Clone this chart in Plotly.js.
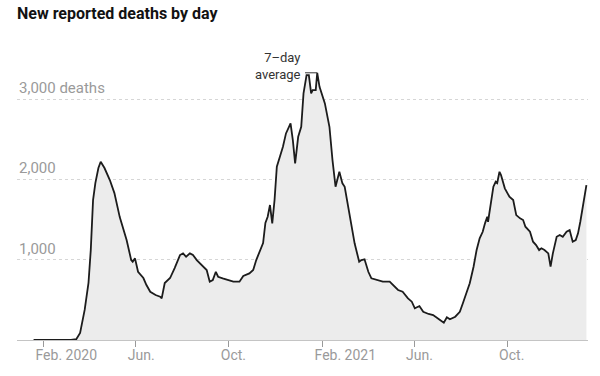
<!DOCTYPE html>
<html>
<head>
<meta charset="utf-8">
<script src="https://cdn.plot.ly/plotly-3.0.1.min.js"></script>
<style>
  html, body { margin: 0; padding: 0; background: #fff; }
  #chart { width: 600px; height: 376px; }
</style>
</head>
<body>
<div id="chart"></div>
<script>
// 7-day average of new reported deaths
const dates = [
  "2020-01-19","2020-02-15","2020-03-08","2020-03-15","2020-03-20","2020-03-26","2020-03-31",
  "2020-04-03","2020-04-06","2020-04-09","2020-04-13","2020-04-16","2020-04-21","2020-04-28",
  "2020-05-04","2020-05-11","2020-05-15","2020-05-20","2020-05-26","2020-05-28","2020-05-31",
  "2020-06-04","2020-06-11","2020-06-15","2020-06-20","2020-06-27","2020-07-03","2020-07-05",
  "2020-07-09","2020-07-16","2020-07-22","2020-07-29","2020-08-02","2020-08-06","2020-08-11",
  "2020-08-15","2020-08-20","2020-08-26","2020-09-02","2020-09-06","2020-09-10","2020-09-14",
  "2020-09-17","2020-09-23","2020-09-30","2020-10-07","2020-10-15","2020-10-20","2020-10-28",
  "2020-11-02","2020-11-06","2020-11-11","2020-11-15","2020-11-18","2020-11-21","2020-11-24",
  "2020-11-27","2020-11-30","2020-12-03","2020-12-07","2020-12-11","2020-12-15","2020-12-18",
  "2020-12-21","2020-12-24","2020-12-27","2020-12-31","2021-01-04","2021-01-07","2021-01-11",
  "2021-01-14","2021-01-17","2021-01-19","2021-01-23","2021-01-25","2021-01-28","2021-02-04",
  "2021-02-10","2021-02-14","2021-02-18","2021-02-23","2021-02-27","2021-03-02","2021-03-06",
  "2021-03-11","2021-03-15","2021-03-21","2021-03-24","2021-03-28","2021-04-02","2021-04-06",
  "2021-04-13","2021-04-21","2021-04-30","2021-05-04","2021-05-11","2021-05-17","2021-05-24",
  "2021-05-29","2021-06-02","2021-06-08","2021-06-13","2021-06-20","2021-06-26","2021-07-05",
  "2021-07-10","2021-07-14","2021-07-18","2021-07-25","2021-07-31","2021-08-04","2021-08-09",
  "2021-08-13","2021-08-18","2021-08-22","2021-08-26","2021-08-30","2021-09-02","2021-09-05",
  "2021-09-06","2021-09-09","2021-09-13","2021-09-16","2021-09-18","2021-09-21","2021-09-23",
  "2021-09-28","2021-10-04","2021-10-09","2021-10-13","2021-10-18","2021-10-22","2021-10-25",
  "2021-10-31","2021-11-04","2021-11-08","2021-11-12","2021-11-15","2021-11-19","2021-11-24",
  "2021-11-27","2021-11-30","2021-12-05","2021-12-09","2021-12-13","2021-12-18","2021-12-22",
  "2021-12-26","2021-12-30","2022-01-02","2022-01-05","2022-01-09","2022-01-13"
];
const deaths = [
  0, 0, 2, 10, 87, 374, 710,
  1120, 1743, 1955, 2142, 2220, 2142, 1992,
  1830, 1531, 1394, 1245, 996, 975, 1017,
  850, 772, 685, 601, 560, 539, 519,
  710, 772, 896, 1058, 1079, 1037, 1079,
  1058, 996, 934, 872, 726, 747, 850,
  788, 768, 747, 726, 726, 797, 830,
  872, 996, 1120, 1208, 1457, 1535, 1681,
  1453, 1743, 2158, 2282, 2407, 2573, 2636,
  2698, 2490, 2200, 2531, 2656, 3071, 3299,
  3299, 3071, 3113, 3113, 3328, 3154, 2947,
  2656, 2241, 1909, 2095, 1951, 1909, 1702,
  1411, 1204, 975, 996, 1005, 850, 768,
  747, 726, 726, 685, 623, 601, 519,
  477, 395, 423, 352, 324, 311, 249,
  215, 283, 258, 290, 352, 457, 581,
  706, 913, 1121, 1266, 1348, 1453, 1535,
  1473, 1640, 1909, 1971, 1955, 2095, 2054,
  1889, 1784, 1743, 1556, 1515, 1494, 1411,
  1348, 1224, 1183, 1120, 1142, 1120, 1079,
  913, 1079, 1286, 1307, 1286, 1348, 1370,
  1224, 1245, 1328, 1473, 1702, 1930
];

const xTickVals = ["2020-02-01","2020-06-01","2020-10-01","2021-02-01","2021-06-01","2021-10-01"];
const xTickText = ["Feb. 2020","Jun.","Oct.","Feb. 2021","Jun.","Oct."];
const yTickVals = [1000, 2000, 3000];
const yTickText = ["1,000", "2,000", "3,000 deaths"];

const titleText = "New reported deaths by day";
const avgLabel = "7–day<br>average";
const avgLabelDate = "2021-01-06";
const leaderStart = "2021-01-09";

const peak = Math.max(...deaths);
const peakDate = dates[deaths.indexOf(peak)];

const FONT = "Roboto, 'Liberation Sans', Arial, sans-serif";

const trace = {
  type: "scatter",
  mode: "lines",
  x: dates,
  y: deaths,
  fill: "tozeroy",
  fillcolor: "#ececec",
  line: { color: "#1c1c1c", width: 1.8 },
  hoverinfo: "skip"
};

const yAnnotations = yTickVals.map((v, i) => ({
  xref: "paper", x: 0, xanchor: "left",
  yref: "y", y: v, yanchor: "bottom", yshift: 0,
  text: yTickText[i], showarrow: false,
  font: { family: FONT, size: 15, color: "#9a9a9a" }
}));

const layout = {
  width: 600, height: 376,
  margin: { l: 17, r: 12, t: 59, b: 36 },
  paper_bgcolor: "#ffffff",
  plot_bgcolor: "#ffffff",
  showlegend: false,
  title: {
    text: titleText,
    font: { family: FONT, size: 16, color: "#121212", weight: 700 },
    xref: "container", x: 17 / 600, xanchor: "left",
    yref: "container", y: 1 - 8 / 376, yanchor: "top"
  },
  xaxis: {
    type: "date",
    range: ["2019-12-28 06:00", "2022-01-15 02:00"],
    tickvals: xTickVals,
    ticktext: xTickText,
    ticks: "outside", ticklen: 6, tickcolor: "#999", tickwidth: 1,
    showgrid: false, zeroline: false,
    showline: true, linecolor: "#c4c4c4", linewidth: 1,
    ticklabelposition: "outside right",
    ticklabelshift: -9,
    ticklabelstandoff: 2,
    tickfont: { family: FONT, size: 14, color: "#9a9a9a" },
    fixedrange: true
  },
  yaxis: {
    range: [0, 3500],
    tickvals: yTickVals,
    showticklabels: false,
    ticks: "",
    showgrid: true, gridcolor: "#d6d6d6", griddash: "dot", gridwidth: 1,
    zeroline: false, showline: false,
    fixedrange: true
  },
  annotations: yAnnotations.concat([{
    xref: "x", x: avgLabelDate, xanchor: "right",
    yref: "y", y: peak, yanchor: "bottom", yshift: -11,
    text: avgLabel, align: "right", showarrow: false,
    font: { family: FONT, size: 13, color: "#333" }
  }]),
  shapes: [{
    type: "line", xref: "x", yref: "y",
    x0: leaderStart, x1: peakDate, y0: peak, y1: peak,
    line: { color: "#333", width: 1 }
  }]
};

Plotly.newPlot("chart", [trace], layout, { displayModeBar: false, staticPlot: true });
</script>
</body>
</html>
